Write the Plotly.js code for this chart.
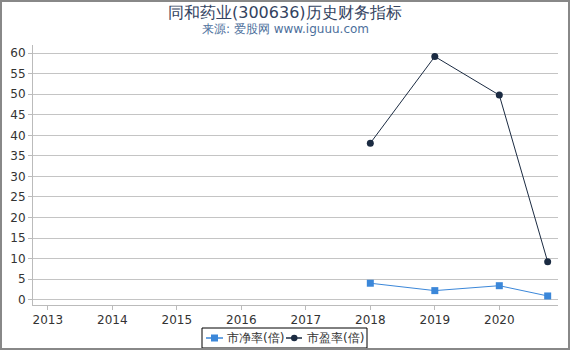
<!DOCTYPE html>
<html><head><meta charset="utf-8">
<script src="https://cdn.plot.ly/plotly-3.0.1.min.js"></script>
<style>
body{margin:0;padding:0;background:#fff;}
#wrap{position:relative;width:570px;height:350px;}
#chart{width:570px;height:350px;}
#frame{position:absolute;left:0;top:0;width:570px;height:350px;box-sizing:border-box;border:2px solid #888;pointer-events:none;}
</style>
</head><body>
<div id="wrap"><div id="chart"></div><div id="frame"></div></div>
<script>
const years = [2018, 2019, 2020, 2020.75];
const pb = [4.0, 2.2, 3.4, 0.9];
const pe = [38.1, 59.2, 49.8, 9.2];
const xTicks = [2013, 2014, 2015, 2016, 2017, 2018, 2019, 2020];
const xTickLabels = ['2013', '2014', '2015', '2016', '2017', '2018', '2019', '2020'];
const yTicks = [0, 5, 10, 15, 20, 25, 30, 35, 40, 45, 50, 55, 60];
const seriesNames = ['市净率(倍)', '市盈率(倍)'];
const titleText = '同和药业(300636)历史财务指标';
const subtitleText = '来源: 爱股网 www.iguuu.com';

const font = 'DejaVu Sans, sans-serif';
const pbColor = '#3b87d9', peColor = '#1b2b42';
const M = {l: 33, r: 12, t: 45, b: 45}, W = 570, H = 350;
const pw = W - M.l - M.r, ph = H - M.t - M.b;
const px = x => (x - M.l) / pw;
const py = y => (H - M.b - y) / ph;

const traces = [
  {x: years, y: pb, name: seriesNames[0], type: 'scatter', mode: 'lines+markers',
   line: {color: pbColor, width: 1}, marker: {symbol: 'square', size: 7, color: pbColor}},
  {x: years, y: pe, name: seriesNames[1], type: 'scatter', mode: 'lines+markers',
   line: {color: peColor, width: 1}, marker: {symbol: 'circle', size: 7, color: peColor}}
];

// legend drawn as decoration (box, symbols, labels)
const lgY = 338;
const shapes = [
  {type: 'rect', xref: 'paper', yref: 'paper', x0: px(202), x1: px(367), y0: py(328), y1: py(348),
   line: {color: '#000', width: 1}, fillcolor: 'rgba(0,0,0,0)'},
  {type: 'line', xref: 'paper', yref: 'paper', x0: px(206), x1: px(223), y0: py(lgY), y1: py(lgY), line: {color: pbColor, width: 1.5}},
  {type: 'rect', xref: 'paper', yref: 'paper', x0: px(211), x1: px(218), y0: py(lgY - 3.5), y1: py(lgY + 3.5), line: {width: 0}, fillcolor: pbColor},
  {type: 'line', xref: 'paper', yref: 'paper', x0: px(286), x1: px(302), y0: py(lgY), y1: py(lgY), line: {color: peColor, width: 1.5}},
  {type: 'circle', xref: 'paper', yref: 'paper', x0: px(291), x1: px(297.5), y0: py(lgY - 3.25), y1: py(lgY + 3.25), line: {width: 0}, fillcolor: peColor}
];

const layout = {
  width: W, height: H,
  margin: M,
  paper_bgcolor: '#fff', plot_bgcolor: '#fff',
  font: {family: font, size: 12, color: '#333'},
  showlegend: false,
  shapes: shapes,
  annotations: [
    {text: titleText, xref: 'paper', yref: 'paper', x: px(285), y: py(12), xanchor: 'center', yanchor: 'middle',
     showarrow: false, font: {family: font, size: 16, color: '#33435f'}},
    {text: subtitleText, xref: 'paper', yref: 'paper', x: px(285), y: py(29), xanchor: 'center', yanchor: 'middle',
     showarrow: false, font: {family: font, size: 12, color: '#4d6f9c'}},
    {text: seriesNames[0], xref: 'paper', yref: 'paper', x: px(225), y: py(lgY), xanchor: 'left', yanchor: 'middle',
     showarrow: false, font: {family: font, size: 12, color: '#333'}},
    {text: seriesNames[1], xref: 'paper', yref: 'paper', x: px(305), y: py(lgY), xanchor: 'left', yanchor: 'middle',
     showarrow: false, font: {family: font, size: 12, color: '#333'}}
  ],
  xaxis: {range: [2012.77, 2020.91], tickvals: xTicks, ticktext: xTickLabels,
          showgrid: false, zeroline: false, showline: true, linecolor: '#bbb', linewidth: 1,
          ticks: 'outside', ticklen: 4, tickcolor: '#bbb', tickfont: {size: 12, color: '#333'}},
  yaxis: {range: [-1.3, 62], tickvals: yTicks, showgrid: true, gridcolor: '#c4c4c4', gridwidth: 1,
          zeroline: false, showline: true, linecolor: '#bbb', linewidth: 1,
          ticks: 'outside', ticklen: 4, tickcolor: '#bbb', tickfont: {size: 12, color: '#333'}}
};
Plotly.newPlot('chart', traces, layout, {displayModeBar: false, staticPlot: true});
</script>
</body></html>
